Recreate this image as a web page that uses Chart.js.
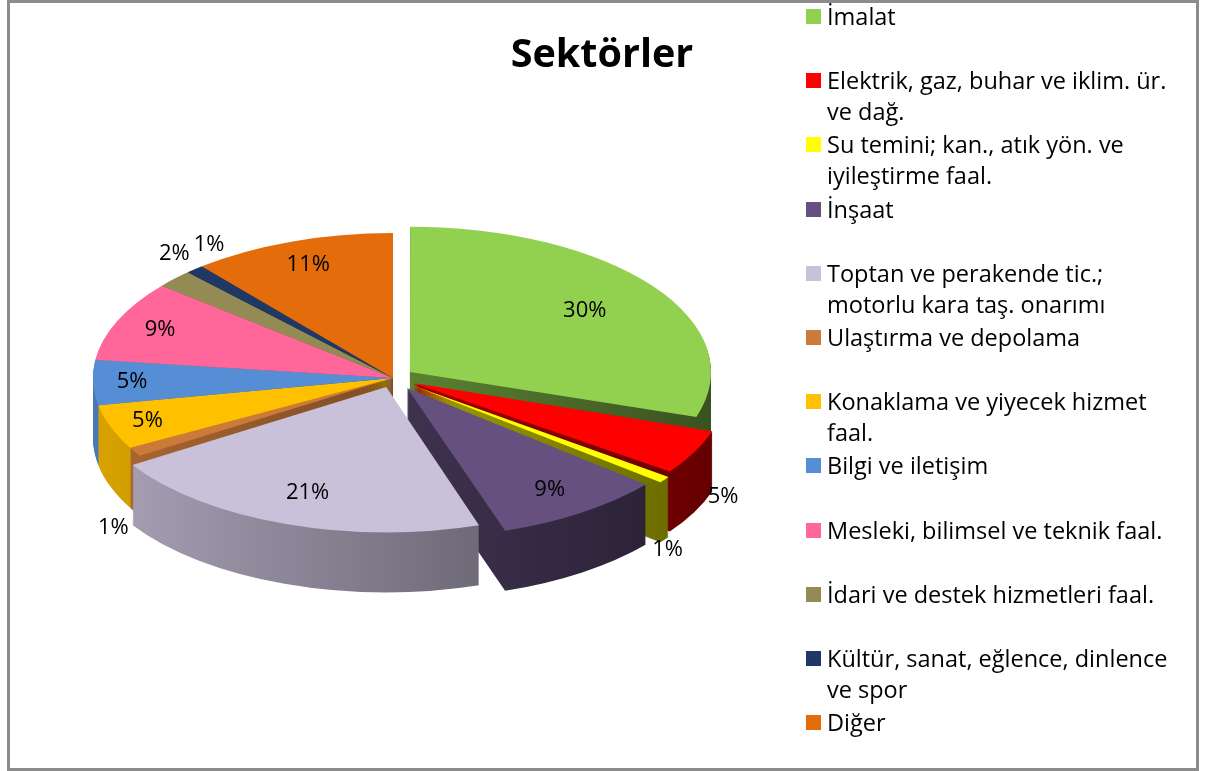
<!DOCTYPE html>
<html lang="tr">
<head>
<meta charset="utf-8">
<title>Sektörler</title>
<script src="https://cdn.jsdelivr.net/npm/chart.js@4.4.1/dist/chart.umd.min.js"></script>
<style>
  html, body { margin: 0; padding: 0; background: #fff; }
  body { width: 1209px; height: 771px; position: relative; overflow: hidden; font-family: 'Open Sans', Lato, sans-serif; color: #000; }
  #frame { position: absolute; left: 7px; top: 0; width: 1192px; height: 771px; box-sizing: border-box; border: 3px solid #8c8c8c; }
  #chart-wrap { position: absolute; left: 0; top: 0; width: 1209px; height: 771px; }
  #title { position: absolute; left: 452px; width: 300px; top: 22px; text-align: center; font-weight: bold; font-size: 39.5px; line-height: 60px; }
  .legend-item { position: absolute; left: 806px; font-size: 23.5px; line-height: 31px; }
  .legend-box { position: absolute; left: 0; top: 8px; width: 15px; height: 15px; }
  .legend-text { position: absolute; left: 21px; top: 0; white-space: pre; }
</style>
</head>
<body>
<div id="frame"></div>
<div id="chart-wrap"><canvas id="sektor-chart"></canvas></div>
<div id="title">Sektörler</div>
<div id="legend"></div>
<script>
// veriler
const sektorler = [
  'İmalat',
  'Elektrik, gaz, buhar ve iklim. ür.\nve dağ.',
  'Su temini; kan., atık yön. ve\niyileştirme faal.',
  'İnşaat',
  'Toptan ve perakende tic.;\nmotorlu kara taş. onarımı',
  'Ulaştırma ve depolama',
  'Konaklama ve yiyecek hizmet\nfaal.',
  'Bilgi ve iletişim',
  'Mesleki, bilimsel ve teknik faal.',
  'İdari ve destek hizmetleri faal.',
  'Kültür, sanat, eğlence, dinlence\nve spor',
  'Diğer'
];
const yuzdeler = [30, 5, 1, 9, 21, 1, 5, 5, 9, 2, 1, 11];

// görünüm
const renkler = ['#92d050', '#ff0000', '#ffff00', '#65507f', '#c9c0da', '#cc7a3a',
  '#ffc000', '#558ed5', '#ff6699', '#948a54', '#1f3864', '#e46c0a'];
const ayrilma = [84, 90, 90, 100, 80, 0, 0, 0, 0, 0, 0, 0]; // chart.js offset/4 kadar kaydırır
const disEtiketler = new Set([1, 2, 5, 9, 10]);
const EGIM = 0.483;      // elipsin dikey basıklığı
const DERINLIK = 60;     // dilim kalınlığı (px)
const OFFSET_CARPANI = 0.25;
const ETIKET_FONT = '22px "Open Sans", Lato, sans-serif';

function tonla(hex, f) {
  const n = parseInt(hex.slice(1), 16);
  const r = Math.round(((n >> 16) & 255) * f);
  const g = Math.round(((n >> 8) & 255) * f);
  const b = Math.round((n & 255) * f);
  return `rgb(${r},${g},${b})`;
}

function ortaAci(arc) {
  return (arc.startAngle + arc.endAngle) / 2;
}

function basik(ctx, cx, cy, dy) {
  ctx.translate(cx, cy + dy);
  ctx.scale(1, EGIM);
  ctx.translate(-cx, -cy);
}

const pasta3d = {
  id: 'pasta3d',
  beforeDatasetsDraw(chart) {
    const ctx = chart.ctx;
    const arcs = chart.getDatasetMeta(0).data;
    if (!arcs.length) return;
    const cx = arcs[0].x;
    const cy = arcs[0].y;
    const r = arcs[0].outerRadius;

    // yan yüzler: arkadan öne doğru
    const sira = arcs.map((a, i) => i)
      .sort((i, j) => Math.sin(ortaAci(arcs[i])) - Math.sin(ortaAci(arcs[j])));
    sira.forEach((i) => {
      const arc = arcs[i];
      const grad = ctx.createLinearGradient(cx - r, 0, cx + r + 20, 0);
      grad.addColorStop(0, tonla(renkler[i], 0.85));
      grad.addColorStop(1, tonla(renkler[i], 0.38));
      const asil = arc.options;
      arc.options = Object.assign({}, asil, { backgroundColor: grad, borderWidth: 0 });
      for (let d = DERINLIK; d > 0; d -= 1) {
        ctx.save();
        basik(ctx, cx, cy, d);
        arc.draw(ctx);
        ctx.restore();
      }
      arc.options = asil;
    });

    // üst yüzleri chart.js çizsin, basık koordinatta
    ctx.save();
    basik(ctx, cx, cy, 0);
  },
  afterDatasetsDraw(chart) {
    const ctx = chart.ctx;
    ctx.restore();
    const arcs = chart.getDatasetMeta(0).data;
    if (!arcs.length) return;
    const cx = arcs[0].x;
    const cy = arcs[0].y;
    const r = arcs[0].outerRadius;
    const toplam = yuzdeler.reduce((a, b) => a + b, 0);

    ctx.save();
    ctx.font = ETIKET_FONT;
    ctx.fillStyle = '#000';
    ctx.textAlign = 'center';
    ctx.textBaseline = 'middle';
    const kutular = [];
    arcs.forEach((arc, i) => {
      const th = ortaAci(arc);
      const cos = Math.cos(th);
      const sin = Math.sin(th);
      const o = (arc.options.offset || 0) * OFFSET_CARPANI;
      const metin = yuzdeler[i] + '%';
      const w = ctx.measureText(metin).width;
      let x;
      let y;
      if (disEtiketler.has(i)) {
        const ex = cx + cos * (r + o);
        const ey = cy + sin * (r + o) * EGIM;
        if (sin > 0 && cos > 0.88) {
          // sağ kenardaki dilim: yanına
          x = ex + cos * 48;
          y = ey + DERINLIK / 2 + 18;
        } else if (sin > 0) {
          x = ex + cos * 25;
          y = ey + DERINLIK + 16;
        } else {
          x = ex;
          y = ey - 25;
        }
        // çakışan etiketi sağa it
        kutular.forEach((k) => {
          if (Math.abs(k.y - y) < 22 && Math.abs(k.x - x) < (k.w + w) / 2 + 4) {
            x = k.x + (k.w + w) / 2 + 4;
          }
        });
      } else {
        const R = o + r * (0.9 - 0.6 * yuzdeler[i] / toplam);
        x = cx + cos * R;
        y = cy + sin * R * EGIM;
      }
      kutular.push({ x, y, w });
      ctx.fillText(metin, x, y);
    });
    ctx.restore();
  }
};

function legendOlustur() {
  const legend = document.getElementById('legend');
  sektorler.forEach((ad, i) => {
    const item = document.createElement('div');
    item.className = 'legend-item';
    item.style.top = (1 + i * 64.2) + 'px';
    const box = document.createElement('span');
    box.className = 'legend-box';
    box.style.background = renkler[i];
    const text = document.createElement('span');
    text.className = 'legend-text';
    text.textContent = ad;
    item.appendChild(box);
    item.appendChild(text);
    legend.appendChild(item);
  });
}

legendOlustur();

new Chart(document.getElementById('sektor-chart'), {
  type: 'pie',
  data: {
    labels: sektorler.map((s) => s.replace('\n', ' ')),
    datasets: [{
      data: yuzdeler,
      backgroundColor: renkler,
      borderWidth: 0,
      offset: ayrilma,
      hoverOffset: 0
    }]
  },
  options: {
    responsive: true,
    maintainAspectRatio: false,
    animation: false,
    radius: 300,
    layout: { padding: { left: 93, right: 516, top: 78, bottom: 93 } },
    events: [],
    plugins: {
      legend: { display: false },
      title: { display: false },
      tooltip: { enabled: false }
    }
  },
  plugins: [pasta3d]
});
</script>
</body>
</html>
